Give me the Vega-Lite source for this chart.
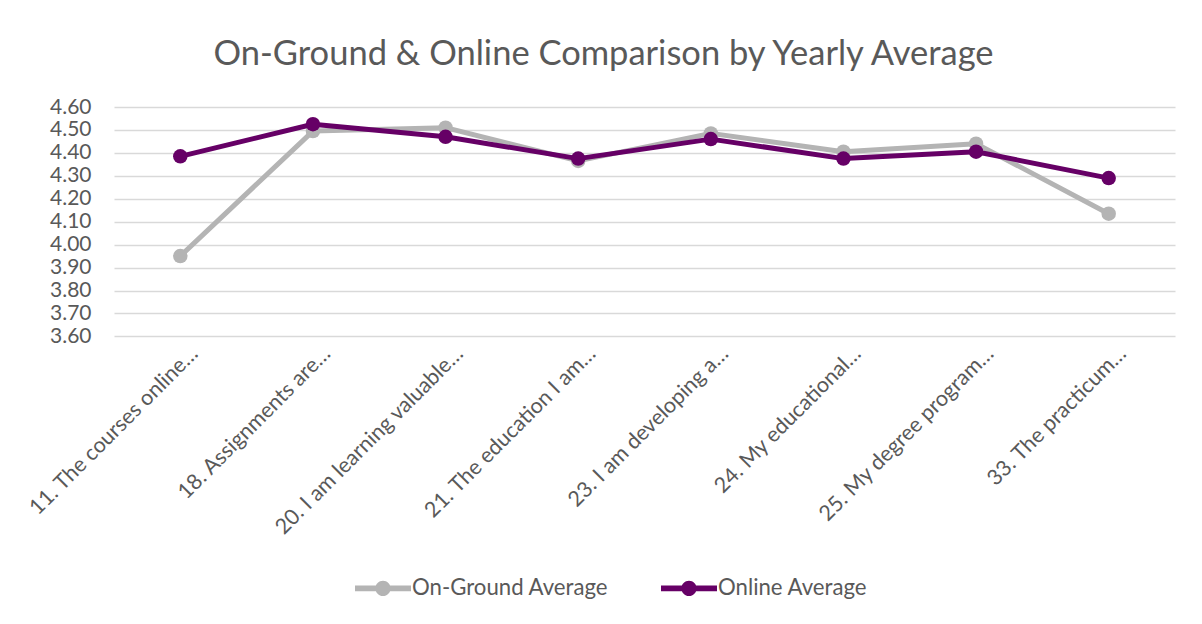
{
  "$schema": "https://vega.github.io/schema/vega-lite/v6.json",
  "autosize": {"type": "none"},
  "width": 1061,
  "height": 229.4,
  "padding": {"left": 114, "top": 107, "right": 27, "bottom": 287.6},
  "background": "white",
  "title": {
    "text": "On-Ground & Online Comparison by Yearly Average",
    "font": "Lato",
    "fontSize": 34.5,
    "fontWeight": "normal",
    "color": "#595959",
    "anchor": "middle",
    "frame": "group",
    "baseline": "alphabetic",
    "dx": -41,
    "dy": 23,
    "offset": 20
  },
  "config": {
    "view": {"stroke": null},
    "font": "Lato"
  },
  "data": {
    "values": [
      {"question": "11. The courses online…", "series": "On-Ground Average", "value": 3.95},
      {"question": "18. Assignments are…", "series": "On-Ground Average", "value": 4.495},
      {"question": "20. I am learning valuable…", "series": "On-Ground Average", "value": 4.51},
      {"question": "21. The education I am…", "series": "On-Ground Average", "value": 4.365},
      {"question": "23. I am developing a…", "series": "On-Ground Average", "value": 4.485},
      {"question": "24. My educational…", "series": "On-Ground Average", "value": 4.405},
      {"question": "25. My degree program…", "series": "On-Ground Average", "value": 4.44},
      {"question": "33. The practicum…", "series": "On-Ground Average", "value": 4.135},
      {"question": "11. The courses online…", "series": "Online Average", "value": 4.385},
      {"question": "18. Assignments are…", "series": "Online Average", "value": 4.525},
      {"question": "20. I am learning valuable…", "series": "Online Average", "value": 4.47},
      {"question": "21. The education I am…", "series": "Online Average", "value": 4.375},
      {"question": "23. I am developing a…", "series": "Online Average", "value": 4.46},
      {"question": "24. My educational…", "series": "Online Average", "value": 4.375},
      {"question": "25. My degree program…", "series": "Online Average", "value": 4.405},
      {"question": "33. The practicum…", "series": "Online Average", "value": 4.29}
    ]
  },
  "encoding": {
    "x": {
      "field": "question",
      "type": "nominal",
      "sort": null,
      "scale": {"type": "point", "padding": 0.5},
      "axis": {
        "title": null,
        "domain": false,
        "ticks": false,
        "grid": false,
        "labelAngle": -45,
        "labelAlign": "right",
        "labelBaseline": "middle",
        "labelOffset": 14,
        "labelPadding": 14,
        "labelFont": "Lato",
        "labelFontSize": 21.5,
        "labelColor": "#595959",
        "labelLimit": 0
      }
    },
    "y": {
      "field": "value",
      "type": "quantitative",
      "scale": {"domain": [3.6, 4.6], "nice": false, "zero": false},
      "axis": {
        "title": null,
        "values": [3.6, 3.7, 3.8, 3.9, 4.0, 4.1, 4.2, 4.3, 4.4, 4.5, 4.6],
        "format": ".2f",
        "domain": false,
        "ticks": false,
        "grid": true,
        "gridColor": "#d9d9d9",
        "gridWidth": 1.5,
        "labelPadding": 23,
        "labelFont": "Lato",
        "labelFontSize": 21,
        "labelColor": "#595959"
      }
    },
    "color": {
      "field": "series",
      "type": "nominal",
      "scale": {"domain": ["On-Ground Average", "Online Average"], "range": ["#B4B4B4", "#660066"]},
      "legend": {
        "title": null,
        "orient": "none",
        "direction": "horizontal",
        "legendX": 241,
        "legendY": 453,
        "padding": 0,
        "symbolType": "M-1,-0.1H1V0.1H-1Z M-0.27,0A0.27,0.27 0 1,1 0.27,0A0.27,0.27 0 1,1 -0.27,0Z",
        "symbolSize": 3136,
        "symbolStrokeWidth": 0,
        "labelFont": "Lato",
        "labelFontSize": 22.2,
        "labelColor": "#595959",
        "labelOffset": 1,
        "labelLimit": 0,
        "columnPadding": 52,
        "encode": {
          "symbols": {
            "update": {
              "fill": {"scale": "color", "field": "value"},
              "stroke": {"value": "transparent"},
              "strokeWidth": {"value": 0},
              "opacity": {"value": 1}
            }
          }
        }
      }
    }
  },
  "layer": [
    {
      "transform": [{"filter": "datum.series === 'On-Ground Average'"}],
      "mark": {"type": "line", "strokeWidth": 5, "strokeCap": "round", "strokeJoin": "round"}
    },
    {
      "transform": [{"filter": "datum.series === 'On-Ground Average'"}],
      "mark": {"type": "point", "filled": true, "shape": "circle", "size": 210, "opacity": 1}
    },
    {
      "transform": [{"filter": "datum.series === 'Online Average'"}],
      "mark": {"type": "line", "strokeWidth": 5, "strokeCap": "round", "strokeJoin": "round"}
    },
    {
      "transform": [{"filter": "datum.series === 'Online Average'"}],
      "mark": {"type": "point", "filled": true, "shape": "circle", "size": 210, "opacity": 1}
    }
  ]
}
